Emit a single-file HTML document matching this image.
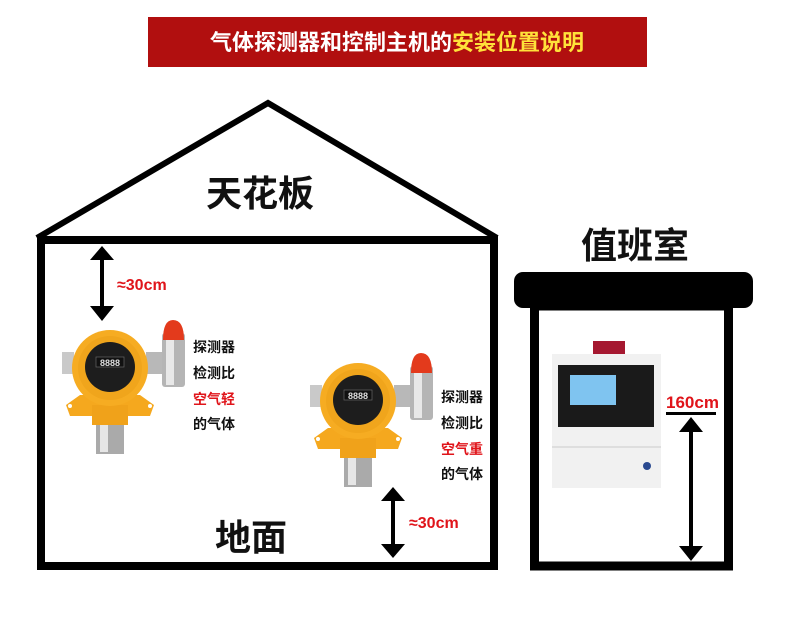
<!DOCTYPE html>
<html><head><meta charset="utf-8"><style>
html,body{margin:0;padding:0;background:#fff;width:790px;height:638px;overflow:hidden}
svg{display:block}
text{font-family:"Liberation Sans","Noto Sans CJK SC",sans-serif;font-weight:bold}
</style></head><body>
<svg width="790" height="638" viewBox="0 0 790 638">
<defs>
<g id="det">
 <rect x="62" y="352" width="12" height="22" fill="#c9c9c9"/>
 <rect x="96" y="422" width="28" height="32" fill="#aaa"/>
 <rect x="100" y="424" width="8" height="28" fill="#e6e6e6"/>
 <rect x="146" y="352" width="20" height="22" fill="#b8b8b8"/>
 <rect x="162" y="333" width="23" height="54" rx="3" fill="#b5b5b5"/>
 <rect x="166" y="335" width="8" height="50" fill="#e8e8e8"/>
 <path d="M163 340 Q163 320 173 320 Q184 320 184 340 Z" fill="#e33a1c"/>
 <path d="M66 405 L80 395 L140 395 L154 405 L150 416 L70 416 Z" fill="#f5a81e"/>
 <rect x="92" y="405" width="36" height="20" fill="#f0a21a"/>
 <circle cx="110" cy="368" r="38" fill="#f6ac22"/>
 <circle cx="110" cy="368" r="32" fill="#f0a51c"/>
 <circle cx="110" cy="367" r="25" fill="#1d1d1d"/>
 <rect x="96" y="357" width="28" height="10" fill="#111" stroke="#666" stroke-width=".7"/>
 <text x="110" y="366" font-size="9" fill="#ddd" text-anchor="middle" font-weight="normal">8888</text>
 <circle cx="70" cy="406" r="2" fill="#fff"/><circle cx="150" cy="406" r="2" fill="#fff"/>
</g>
</defs>
<rect x="148" y="17" width="499" height="50" fill="#b10f0f"/>
<text x="397" y="50" font-size="22" text-anchor="middle"><tspan fill="#fff">气体探测器和控制主机的</tspan><tspan fill="#ffe23a">安装位置说明</tspan></text>

<polyline points="37,238 268,103 497,238" fill="none" stroke="#000" stroke-width="6" stroke-linejoin="miter"/>
<rect x="41" y="240" width="453" height="326" fill="none" stroke="#000" stroke-width="8"/>
<text x="260" y="206" font-size="36" text-anchor="middle" fill="#111">天花板</text>
<text x="251" y="550" font-size="36" text-anchor="middle" fill="#111">地面</text>

<g stroke="#000" stroke-width="4"><line x1="102" y1="256" x2="102" y2="310"/><line x1="393" y1="497" x2="393" y2="547"/><line x1="691" y1="430" x2="691" y2="548"/></g>
<path d="M90 260 L102 246 L114 260 Z M90 306 L102 321 L114 306 Z M381 501 L393 487 L405 501 Z M381 544 L393 558 L405 544 Z M679 432 L691 417 L703 432 Z M679 546 L691 561 L703 546 Z" fill="#000"/>
<text x="117" y="290" font-size="16" fill="#e0141a">≈30cm</text>
<text x="409" y="528" font-size="16" fill="#e0141a">≈30cm</text>

<use href="#det"/>
<use href="#det" transform="translate(248,33)"/>

<g font-size="14" fill="#111">
<text x="193" y="352">探测器</text><text x="193" y="378">检测比</text><text x="193" y="404" fill="#e0141a">空气轻</text><text x="193" y="429">的气体</text>
<text x="441" y="402">探测器</text><text x="441" y="428">检测比</text><text x="441" y="454" fill="#e0141a">空气重</text><text x="441" y="479">的气体</text>
</g>

<text x="635" y="258" font-size="36" text-anchor="middle" fill="#111">值班室</text>
<rect x="514" y="272" width="239" height="36" rx="9" fill="#000"/>
<rect x="534.5" y="306" width="194" height="260" fill="none" stroke="#000" stroke-width="9"/>
<rect x="593" y="341" width="32" height="14" fill="#a51830"/>
<rect x="552" y="354" width="109" height="134" fill="#f1f1f1"/>
<line x1="552" y1="447" x2="661" y2="447" stroke="#ccc"/>
<rect x="558" y="365" width="96" height="62" fill="#1a1a1a"/>
<rect x="570" y="375" width="46" height="30" fill="#7fc4f0"/>
<circle cx="647" cy="466" r="4" fill="#2a4a90"/>
<text x="666" y="408" font-size="17" fill="#e0141a" font-weight="normal">160cm</text>
<rect x="666" y="412" width="50" height="3" fill="#000"/>
</svg>
</body></html>
